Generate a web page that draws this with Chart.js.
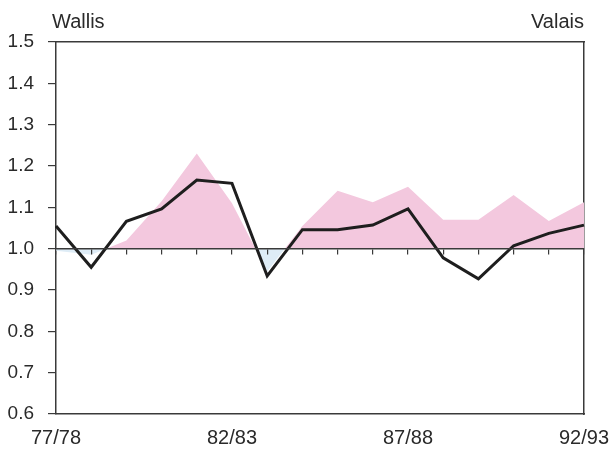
<!DOCTYPE html>
<html>
<head>
<meta charset="utf-8">
<script src="https://cdn.jsdelivr.net/npm/chart.js@4.4.1/dist/chart.umd.min.js"></script>
<style>
  html, body { margin: 0; padding: 0; background: #fff; }
  #wrap { width: 611px; height: 451px; }
</style>
</head>
<body>
<div id="wrap"><canvas id="myChart"></canvas></div>
<script>
// seasons on the x axis
var seasons = ['77/78', '78/79', '79/80', '80/81', '81/82', '82/83', '83/84', '84/85',
               '85/86', '86/87', '87/88', '88/89', '89/90', '90/91', '91/92', '92/93'];
var shownSeasons = ['77/78', '82/83', '87/88', '92/93'];
// black line
var lineValues = [1.055, 0.955, 1.066, 1.096, 1.166, 1.158, 0.934, 1.046,
                  1.046, 1.057, 1.096, 0.978, 0.927, 1.007, 1.037, 1.057];
// shaded area (pink above 1.0, light blue below)
var areaValues = [0.995, 0.985, 1.02, 1.115, 1.23, 1.11, 0.945, 1.055,
                  1.14, 1.112, 1.15, 1.07, 1.07, 1.13, 1.067, 1.112];
var yTicks = [0.6, 0.7, 0.8, 0.9, 1.0, 1.1, 1.2, 1.3, 1.4, 1.5];
var baseValue = 1.0;

var axisColor = '#3a3a3a';
var family = '"Liberation Sans", Arial, Helvetica, sans-serif';

// corner captions above the plot
var captions = {
    id: 'captions',
    afterDraw: function (chart) {
        var ctx = chart.ctx;
        var area = chart.chartArea;
        ctx.save();
        ctx.fillStyle = '#2a2a2a';
        ctx.font = '20px ' + family;
        ctx.textBaseline = 'alphabetic';
        ctx.textAlign = 'left';
        ctx.fillText('Wallis', area.left - 4, 28);
        ctx.textAlign = 'right';
        ctx.fillText('Valais', area.right, 28);
        ctx.restore();
    }
};

const data = {
    labels: seasons,
    datasets: [{
            label: 'Fläche',
            data: areaValues,
            borderWidth: 0,
            pointRadius: 0,
            tension: 0,
            fill: {
                target: { value: baseValue },
                above: 'rgb(243, 200, 222)',
                below: 'rgb(222, 236, 246)'
            },
            order: 2
        },
        {
            label: 'Linie',
            data: lineValues,
            borderColor: '#1e1e1e',
            borderWidth: 3,
            pointRadius: 0,
            tension: 0,
            fill: false,
            order: 1
        }
    ]
};

const config = {
    type: 'line',
    data: data,
    options: {
        responsive: true,
        maintainAspectRatio: false,
        animation: false,
        layout: {
            padding: { top: 42, left: 6, right: 0, bottom: 0 }
        },
        plugins: {
            legend: { display: false },
            tooltip: { enabled: false }
        },
        scales: {
            x: {
                type: 'category',
                offset: false,
                afterFit: function (axis) {
                    axis.height = 37;
                    axis.paddingLeft = 0;
                    axis.paddingRight = 27;
                },
                grid: { display: false, drawTicks: false },
                border: { display: true, color: axisColor, width: 1.5 },
                ticks: {
                    autoSkip: false,
                    maxRotation: 0,
                    padding: 12,
                    color: '#2a2a2a',
                    font: { family: family, size: 20 },
                    callback: function (value, index) {
                        var lbl = seasons[index];
                        return shownSeasons.indexOf(lbl) >= 0 ? lbl : '';
                    }
                }
            },
            xBase: {
                type: 'category',
                offset: false,
                position: { y: baseValue },
                grid: {
                    drawOnChartArea: false,
                    drawTicks: true,
                    tickLength: 5,
                    color: axisColor,
                    lineWidth: 1.2,
                    z: 1
                },
                border: { display: true, color: axisColor, width: 1.5, z: 1 },
                ticks: { display: false }
            },
            xTop: {
                type: 'category',
                position: 'top',
                offset: false,
                grid: { display: false, drawTicks: false },
                border: { display: true, color: axisColor, width: 1.5 },
                ticks: { display: false }
            },
            y: {
                min: 0.6,
                max: 1.5,
                afterBuildTicks: function (axis) {
                    axis.ticks = yTicks.map(function (v) { return { value: v }; });
                },
                afterFit: function (axis) {
                    axis.width = 50;
                },
                grid: {
                    drawOnChartArea: false,
                    drawTicks: true,
                    tickLength: 8,
                    color: axisColor,
                    lineWidth: 1.2
                },
                border: { display: true, color: axisColor, width: 1.5 },
                ticks: {
                    padding: 14,
                    color: '#2a2a2a',
                    font: { family: family, size: 19 },
                    callback: function (value) { return Number(value).toFixed(1); }
                }
            },
            yRight: {
                position: 'right',
                grid: { display: false, drawTicks: false },
                border: { display: true, color: axisColor, width: 1.5 },
                ticks: { display: false }
            }
        }
    },
    plugins: [captions]
};

new Chart(document.getElementById('myChart'), config);
</script>
</body>
</html>
